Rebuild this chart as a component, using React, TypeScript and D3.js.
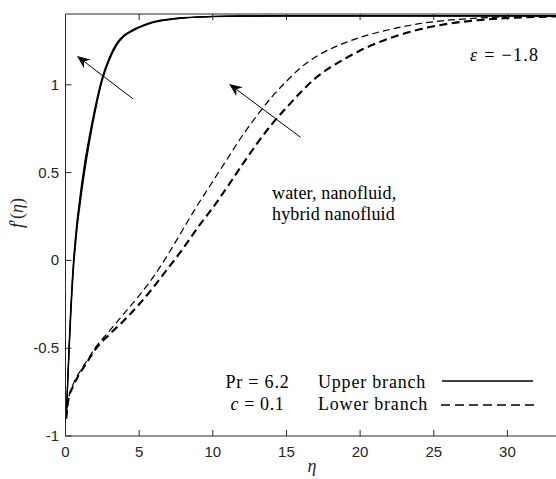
import React from "react";
import * as d3 from "d3";

// ---- data ----
const xTicks = [0, 5, 10, 15, 20, 25, 30];
const yTicks = [-1, -0.5, 0, 0.5, 1];
const yTickLabels = ["-1", "-0.5", "0", "0.5", "1"];

const etaUpper = [0.05, 0.15, 0.25, 0.35, 0.45, 0.55, 0.65, 0.75, 0.9, 1.1, 1.3, 1.6, 2.0, 2.5, 3.0, 3.5, 4.0, 4.5, 5, 6, 7, 8, 9, 10, 12, 15, 20, 34];
const upperWater = [-0.9, -0.68, -0.47, -0.28, -0.12, 0.01, 0.11, 0.2, 0.31, 0.44, 0.555, 0.7, 0.87, 1.045, 1.16, 1.24, 1.285, 1.31, 1.33, 1.36, 1.374, 1.382, 1.387, 1.39, 1.392, 1.392, 1.392, 1.392];
const upperNano = [-0.9, -0.69, -0.49, -0.305, -0.145, -0.015, 0.085, 0.175, 0.285, 0.415, 0.53, 0.68, 0.855, 1.035, 1.152, 1.234, 1.281, 1.307, 1.328, 1.358, 1.372, 1.381, 1.386, 1.389, 1.391, 1.392, 1.392, 1.392];
const upperHybrid = [-0.9, -0.7, -0.51, -0.33, -0.17, -0.04, 0.06, 0.15, 0.26, 0.39, 0.505, 0.66, 0.84, 1.025, 1.145, 1.228, 1.277, 1.304, 1.325, 1.355, 1.37, 1.38, 1.385, 1.388, 1.391, 1.392, 1.392, 1.392];

const etaLower = [0.05, 0.2, 0.5, 1, 1.5, 2, 3, 4, 5, 6, 7, 8, 9, 10, 11, 12, 13, 14, 15, 16, 17, 18, 19, 20, 22, 24, 26, 28, 30, 34];
const lowerThin = [-0.9, -0.79, -0.71, -0.63, -0.565, -0.5, -0.4, -0.3, -0.2, -0.09, 0.04, 0.18, 0.32, 0.45, 0.58, 0.71, 0.825, 0.93, 1.02, 1.1, 1.16, 1.205, 1.24, 1.27, 1.315, 1.348, 1.368, 1.38, 1.387, 1.392];
const lowerThick = [-0.9, -0.79, -0.72, -0.64, -0.575, -0.51, -0.42, -0.34, -0.25, -0.15, -0.04, 0.07, 0.19, 0.3, 0.42, 0.545, 0.665, 0.775, 0.87, 0.96, 1.04, 1.1, 1.15, 1.195, 1.265, 1.315, 1.348, 1.368, 1.38, 1.39];

// arrows: [tailEta, tailF, tipEta, tipF]
const arrowUpper = [4.58, 0.92, 0.78, 1.164];
const arrowLower = [15.96, 0.701, 11.11, 1.005];

const W = 556;
const H = 479;
const left = 65.5;
const top = 14;
const bottom = 436;

export default function App() {
  const x = d3.scaleLinear().domain([0, 34]).range([left, left + 34 * 14.73]);
  const y = d3.scaleLinear().domain([-1, 1]).range([bottom, bottom - 2 * 175.6]);

  const line = (xs: number[], ys: number[]) =>
    d3
      .line<number>()
      .x((_, i) => x(xs[i]))
      .y((d) => y(d))
      .curve(d3.curveMonotoneX)(ys) as string;

  const arrow = (a: number[]) => {
    const x1 = x(a[0]), y1 = y(a[1]), x2 = x(a[2]), y2 = y(a[3]);
    const ang = Math.atan2(y2 - y1, x2 - x1);
    const L = 13, Wd = 5.5, back = 9;
    const ux = Math.cos(ang), uy = Math.sin(ang);
    const px = -uy, py = ux;
    const bx = x2 - ux * L, by = y2 - uy * L;
    const mx = x2 - ux * back, my = y2 - uy * back;
    const head = `M${x2},${y2} L${bx + px * Wd},${by + py * Wd} L${mx},${my} L${bx - px * Wd},${by - py * Wd} Z`;
    return (
      <g>
        <line x1={x1} y1={y1} x2={mx} y2={my} stroke="#000" strokeWidth={1} />
        <path d={head} fill="#000" />
      </g>
    );
  };

  const serif = "Liberation Serif, DejaVu Serif, Noto Serif, serif";
  const sans = "Liberation Sans, Arial, sans-serif";

  return (
    <svg width={W} height={H} style={{ position: "absolute", left: 0, top: 0, background: "#fff" }}>
      <rect x={0} y={0} width={W} height={H} fill="#fff" />
      <defs>
        <clipPath id="plot">
          <rect x={left} y={top} width={W - left} height={bottom - top} />
        </clipPath>
      </defs>

      {/* curves */}
      <g clipPath="url(#plot)" fill="none" stroke="#000">
        <path d={line(etaUpper, upperWater)} strokeWidth={1.2} />
        <path d={line(etaUpper, upperNano)} strokeWidth={1.2} />
        <path d={line(etaUpper, upperHybrid)} strokeWidth={1.2} />
        <path d={line(etaLower, lowerThin)} strokeWidth={1.2} strokeDasharray="7,4" />
        <path d={line(etaLower, lowerThick)} strokeWidth={2.1} strokeDasharray="8,4.5" />
      </g>

      {/* axes */}
      <g stroke="#262626" strokeWidth={1} fill="none">
        <line x1={left} y1={top} x2={W} y2={top} />
        <line x1={left} y1={bottom} x2={W} y2={bottom} />
        <line x1={left} y1={top} x2={left} y2={bottom} />
        {xTicks.map((t) => (
          <g key={"xt" + t}>
            <line x1={x(t)} x2={x(t)} y1={bottom} y2={bottom - 6} />
            <line x1={x(t)} x2={x(t)} y1={top} y2={top + 6} />
          </g>
        ))}
        {yTicks.map((t) => (
          <line key={"yt" + t} x1={left} x2={left + 6} y1={y(t)} y2={y(t)} />
        ))}
      </g>
      <g style={{ fontFamily: sans }} fontSize={15} fill="#262626">
        {xTicks.map((t) => (
          <text key={"xl" + t} x={x(t)} y={457} textAnchor="middle">
            {t}
          </text>
        ))}
        {yTicks.map((t, i) => (
          <text key={"yl" + t} x={59} y={y(t) + 5} textAnchor="end">
            {yTickLabels[i]}
          </text>
        ))}
      </g>

      {/* axis labels */}
      <text x={312} y={472} style={{ fontFamily: serif }} fontStyle="italic" fontSize={18} textAnchor="middle" fill="#262626">
        η
      </text>
      <text
        transform="translate(23,213) rotate(-90)"
        style={{ fontFamily: serif }}
        fontSize={18}
        textAnchor="middle"
        fill="#262626"
      >
        <tspan fontStyle="italic">f</tspan>′(<tspan fontStyle="italic">η</tspan>)
      </text>

      {/* arrows */}
      {arrow(arrowUpper)}
      {arrow(arrowLower)}

      {/* annotations */}
      <g style={{ fontFamily: serif }} fontSize={18} fill="#000">
        <text x={470} y={61} letterSpacing={1.3}>
          <tspan fontStyle="italic">ε</tspan> = −1.8
        </text>
        <text x={272} y={199} letterSpacing={0.15}>water, nanofluid,</text>
        <text x={272} y={220} letterSpacing={0.15}>hybrid nanofluid</text>

        <text x={257.5} y={388} textAnchor="middle" letterSpacing={0.8}>Pr = 6.2</text>
        <text x={257.5} y={410} textAnchor="middle" letterSpacing={0.6}>
          <tspan fontStyle="italic">c</tspan> = 0.1
        </text>
        <text x={318} y={388} letterSpacing={0.8}>Upper branch</text>
        <text x={318} y={410} letterSpacing={0.8}>Lower branch</text>
      </g>
      <line x1={442} x2={533} y1={381} y2={381} stroke="#000" strokeWidth={1.5} />
      <line x1={441} x2={537} y1={405} y2={405} stroke="#000" strokeWidth={1.6} strokeDasharray="9,5" />
    </svg>
  );
}
